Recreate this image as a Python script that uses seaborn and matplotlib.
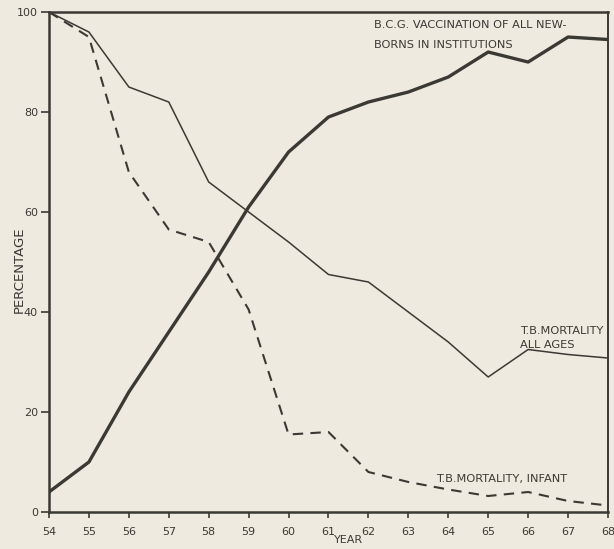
import matplotlib
matplotlib.use("Agg")
import matplotlib.pyplot as plt
import seaborn as sns
import pandas as pd

# Values (percent of 1954 level)
years = [54, 55, 56, 57, 58, 59, 60, 61, 62, 63, 64, 65, 66, 67, 68]
bcg_vaccination = [4, 10, 24, 36, 48, 61, 72, 79, 82, 84, 87, 92, 90, 95, 94.5]
tb_all_ages = [100, 96, 85, 82, 66, 60, 54, 47.5, 46, 40, 34, 27, 32.5, 31.5, 30.8]
tb_infant = [100, 95, 68, 56.5, 54, 40.5, 15.5, 16, 8, 6, 4.5, 3.2, 4, 2.2, 1.3]
year_labels = ["54", "55", "56", "57", "58", "59", "60", "61", "62", "63", "64", "65", "66", "67", "68"]
y_ticks = [0, 20, 40, 60, 80, 100]

paper = "#eeeadf"
ink = "#3b3934"

sns.set_style("ticks")
plt.rcParams["font.family"] = ["DejaVu Sans"]

df = pd.DataFrame({
    "year": years * 3,
    "value": bcg_vaccination + tb_all_ages + tb_infant,
    "series": ["bcg"] * 15 + ["all"] * 15 + ["infant"] * 15,
})

fig = plt.figure(figsize=(6.14, 5.49), dpi=100, facecolor=paper)
ax = fig.add_axes([0.0798, 0.0674, 0.9104, 0.9107])
ax.set_facecolor(paper)

sns.lineplot(data=df[df.series == "bcg"], x="year", y="value", ax=ax,
             color=ink, lw=2.4, solid_joinstyle="round")
sns.lineplot(data=df[df.series == "all"], x="year", y="value", ax=ax,
             color=ink, lw=1.1)
sns.lineplot(data=df[df.series == "infant"], x="year", y="value", ax=ax,
             color=ink, lw=1.5, dashes=False, linestyle=(0, (5, 3.5)))

ax.set_xlim(54, 68)
ax.set_ylim(0, 100)
ax.set_xticks(years)
ax.set_xticklabels(year_labels)
ax.set_yticks(y_ticks)
ax.tick_params(axis="x", length=4, width=1.2, pad=7, labelsize=8, colors=ink)
ax.tick_params(axis="y", length=6, width=1.2, pad=2, labelsize=8, colors=ink)

for side in ["left", "bottom", "top"]:
    ax.spines[side].set_linewidth(1.8)
    ax.spines[side].set_color(ink)
ax.spines["right"].set_linewidth(1.4)
ax.spines["right"].set_color(ink)

ax.set_xlabel("YEAR", fontsize=8, color=ink)
ax.xaxis.set_label_coords(0.536, -0.047)
ax.set_ylabel("PERCENTAGE", fontsize=9.5, color=ink)
ax.yaxis.set_label_coords(-0.042, 0.484)

txt = dict(color=ink, fontsize=8.2, ha="left", va="center")
ax.text(62.15, 97.4, "B.C.G. VACCINATION OF ALL NEW-", **txt)
ax.text(62.15, 93.4, "BORNS IN INSTITUTIONS", **txt)
ax.text(65.8, 36.2, "T.B.MORTALITY", **txt)
ax.text(65.8, 33.4, "ALL AGES", **txt)
ax.text(63.7, 6.6, "T.B.MORTALITY, INFANT", **txt)

fig.savefig("out.png", dpi=100, facecolor=paper)
